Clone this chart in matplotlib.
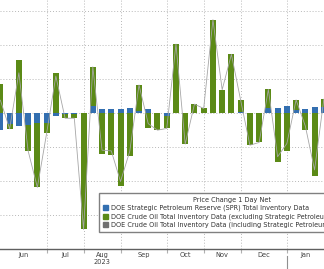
import numpy as np
import pandas as pd
from matplotlib import pyplot as plt
from matplotlib.patches import Patch

# weekly DOE inventory changes (million barrels)
weeks = pd.date_range('2023-06-02', periods=36, freq='7D')
spr = [-2.45, -1.57, -1.86, -1.72, -1.37, -1.47, -0.40, -0.10, -0.10, 0.0,
       1.08, 0.60, 0.60, 0.60, 0.74, 0.30, 0.60, 0.0, -0.40, 0.0,
       0.0, 0.0, 0.0, 0.0, 0.0, 0.0, 0.20, 0.0, 0.0, 0.74,
       0.74, 1.08, 0.50, 0.60, 0.90, 0.90]
crude_ex = [4.40, -0.69, 7.84, -3.77, -9.50, -1.47, 5.90, -0.60, -0.60, -17.06,
            5.78, -6.00, -6.10, -10.60, -6.30, 3.90, -2.10, -2.45, -1.80, 10.20,
            -4.50, 1.37, 0.74, 13.80, 3.50, 8.70, 1.75, -4.66, -4.26, 2.80,
            -7.10, -5.50, 1.50, -2.45, -9.20, 1.20]
year_label = '2023'

spr = np.array(spr)
crude_ex = np.array(crude_ex)
total = spr + crude_ex
x = np.arange(len(weeks))

blue = '#336fb0'
green = '#5b8a16'
grey = '#a6a6a6'

fig = plt.figure(figsize=(3.24, 2.69), dpi=100)
ax = fig.add_axes([0, 20 / 269, 1, 249 / 269])

# stacked bars: SPR next to zero, crude ex-SPR on top (separate +/- stacks)
w = 0.65
ax.bar(x, spr, width=w, color=blue, zorder=3)
g_base = np.where(np.sign(crude_ex) == np.sign(spr), spr, 0)
ax.bar(x, crude_ex, bottom=g_base, width=w, color=green, zorder=3)
ax.plot(x, total, color=grey, lw=0.6, zorder=4)

ax.set_xlim(-0.043, 35.02)
ax.set_ylim(-19.93, 16.69)

# month boundaries and labels (only months fully on the chart)
month = weeks.to_period('M')
starts = [i for i in range(1, len(weeks)) if month[i] != month[i - 1]]
bounds = [0] + starts
mids = [(bounds[i] + bounds[i + 1]) / 2 for i in range(len(bounds) - 1)]
names = [weeks[b].strftime('%b') for b in bounds[:-1]]

ax.set_xticks(starts[:-1])
ax.set_xticklabels([])
ax.set_xticks(mids, minor=True)
ax.set_xticklabels(names, minor=True, fontsize=4.8, color='#404040')
ax.tick_params(axis='x', which='minor', length=0, pad=2)
ax.tick_params(axis='x', which='major', length=3, color='#b0b0b0')
ax.set_yticks(np.arange(-15, 16, 5))
ax.tick_params(axis='y', left=False, labelleft=False)

ax.grid(True, which='major', color='#b8b8b8', linestyle=(0, (1, 2)), lw=0.7,
        zorder=0)
for s in ['top', 'left', 'right']:
    ax.spines[s].set_visible(False)
ax.spines['bottom'].set_color('#606060')
ax.spines['bottom'].set_linewidth(1.0)

aug = names.index('Aug')
ax.text(mids[aug], -21.9, year_label, fontsize=4.8, color='#404040',
        ha='center', va='center')
jan = starts[names.index('Jan') - 1]
ax.plot([jan, jan], [-21.0, -23.0], color='#909090', lw=0.8, clip_on=False)

handles = [Patch(color=blue), Patch(color=green), Patch(color='#707070')]
labels = ['DOE Strategic Petroleum Reserve (SPR) Total Inventory Data',
          'DOE Crude Oil Total Inventory Data (excluding Strategic Petroleum Reserve)',
          'DOE Crude Oil Total Inventory Data (including Strategic Petroleum Reserve)']
leg = fig.legend(handles, labels, title='Price Change 1 Day Net',
                 loc='upper left', bbox_to_anchor=(99 / 324, 1 - 193 / 269),
                 fontsize=4.7, title_fontsize=4.7, fancybox=False,
                 framealpha=1, edgecolor='#808080', handlelength=0.8,
                 handleheight=0.8, handletextpad=0.45, labelspacing=0.3,
                 borderpad=0.6, borderaxespad=0)
leg.get_frame().set_linewidth(1.0)
for t in leg.get_texts():
    t.set_color('#303030')
leg.get_title().set_color('#303030')

fig.savefig('out.png', dpi=100)
